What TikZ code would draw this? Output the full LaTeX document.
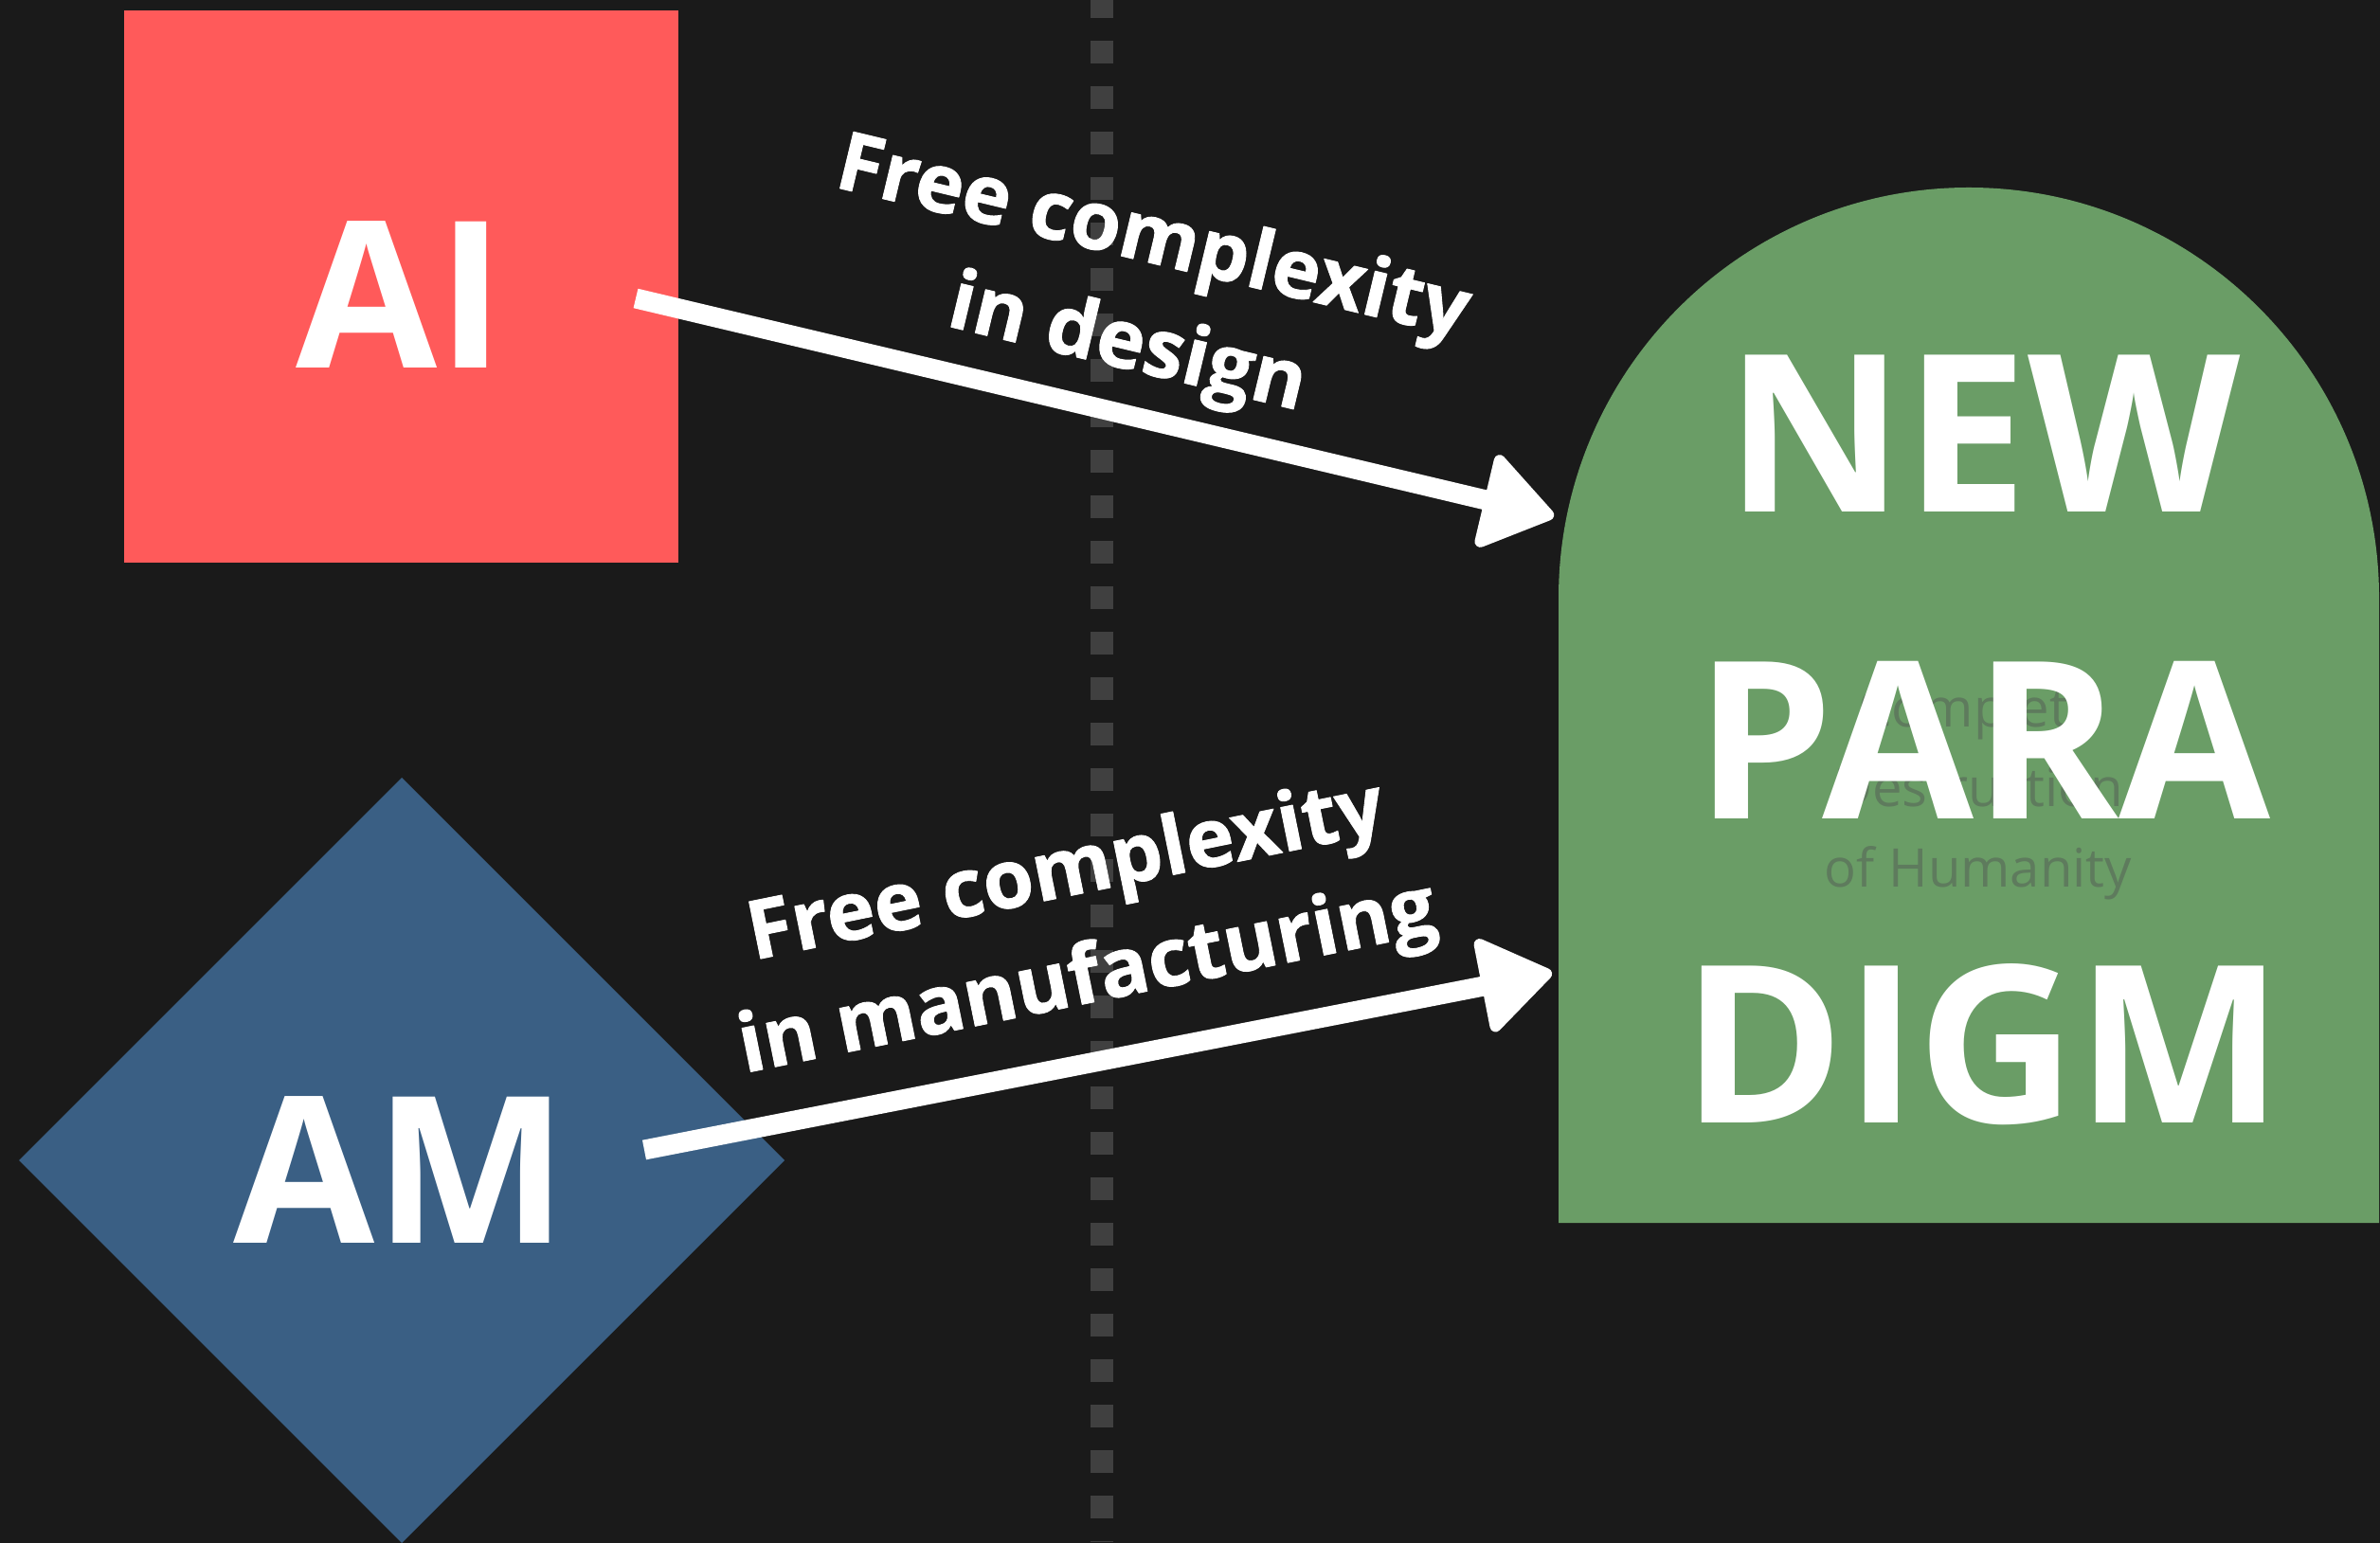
\documentclass[tikz,border=0pt]{standalone}
\usepackage{fontspec}
\setmainfont{Open Sans}
\newfontfamily\heavyfont{Open Sans}[FakeBold=1]
\usetikzlibrary{arrows.meta, calc}

\definecolor{bgdark}{HTML}{1A1A1A}
\definecolor{aired}{HTML}{FF5A5A}
\definecolor{amblue}{HTML}{3A5F84}
\definecolor{pgreen}{HTML}{6A9D66}
\definecolor{dotgray}{HTML}{404040}
\definecolor{ghost}{HTML}{5E7B5D}

\begin{document}
\begin{tikzpicture}[>={Triangle[width=1.08cm, length=0.8cm, round, line width=0.12cm]}, line join=round,
    bigtxt/.style={text=white, font=\fontsize{61.5pt}{70pt}\selectfont\bfseries, anchor=base},
    headtxt/.style={text=white, font=\fontsize{66pt}{72pt}\selectfont\bfseries, anchor=base},
    ghosttxt/.style={text=ghost, font=\fontsize{16pt}{20pt}\selectfont, anchor=base},
    lbl/.style={text=white, align=center, font=\fontsize{24.5pt}{32.7pt}\heavyfont\bfseries},
    flow/.style={->, white, line width=0.21cm}]
    \useasboundingbox (0,0) rectangle (25.12,16.28);
    \fill[bgdark] (-0.2,-0.2) rectangle (25.32,16.48);

    % divider
    \draw[dotgray, line width=0.24cm, dash pattern=on 0.24cm off 0.24cm] (11.63,16.33) -- (11.63,0);

    % AI
    \fill[aired] (1.31,10.34) rectangle (7.16,16.17);
    \node[bigtxt] (ai) at (4.23,12.39) {AI};

    % AM
    \coordinate (D) at (4.24,4.03);
    \fill[amblue] ($(D)+(0,4.04)$) -- ($(D)+(4.04,0)$) -- ($(D)+(0,-4.04)$) -- ($(D)+(-4.04,0)$) -- cycle;
    \node[bigtxt] (am) at (4.23,3.16) {AM};

    % new paradigm
    \fill[pgreen] (16.45,3.37) -- (16.45,9.97) arc (180:0:4.33) -- (25.11,3.37) -- cycle;
    \node[ghosttxt] (g1) at (20.88,8.60) {Complete};
    \node[ghosttxt] (g2) at (20.88,7.76) {Destruction};
    \node[ghosttxt] (g3) at (20.88,6.91) {of Humanity};
    \node[headtxt] (new) at (20.93,10.87) {NEW};
    \node[headtxt] (para) at (20.93,7.63) {PARA};
    \node[headtxt] (digm) at (20.93,4.42) {DIGM};

    % arrows
    \coordinate (aiout) at (6.71,13.13);
    \coordinate (npin1) at (16.40,10.83);
    \coordinate (amout) at (6.80,4.14);
    \coordinate (npin2) at (16.38,6.01);
    \draw[flow] (aiout) -- (npin1);
    \draw[flow] (amout) -- (npin2);
    \node[lbl, rotate=-13.5] (l1) at (12.03,13.17) {Free complexity\\in design};
    \node[lbl, rotate=11.5] (l2) at (11.37,6.48) {Free complexity\\in manufacturing};
\end{tikzpicture}
\end{document}
